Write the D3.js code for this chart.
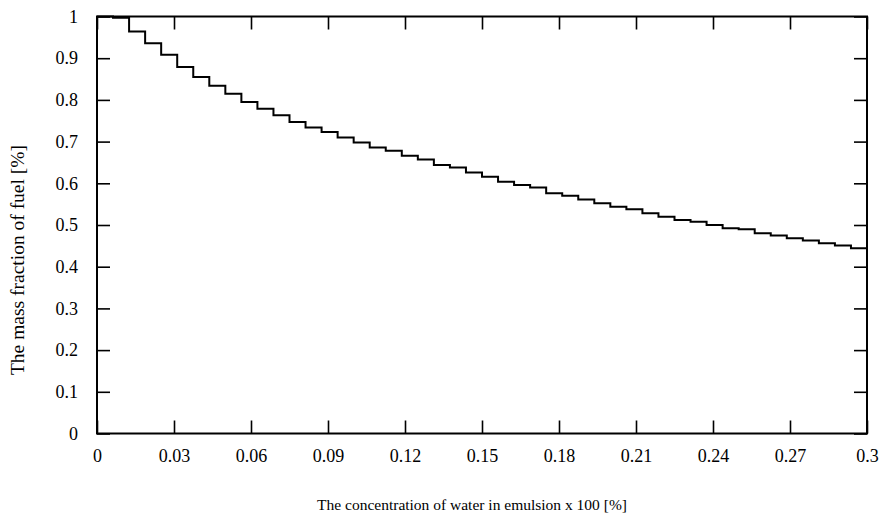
<!DOCTYPE html>
<html lang="en">
<head>
    <meta charset="UTF-8">
    <title>Mass fraction of fuel</title>
    <style>
        html, body { margin: 0; padding: 0; background: #fff; overflow: hidden; }
        svg { display: block; overflow: visible; }
        .tick line { stroke: #000; stroke-width: 1.6; }
        .domain { display: none; }
    </style>
</head>
<body>

    <svg width="884" height="519"></svg>

    <script src="https://cdn.jsdelivr.net/npm/d3@7"></script>

    <script>

        // Step start positions (water concentration) and mass fraction per step
        const stepX = [
            0, 0.00625, 0.0125, 0.01875, 0.025, 0.03125, 0.0375, 0.04375,
            0.05, 0.05625, 0.0625, 0.06875, 0.075, 0.08125, 0.0875, 0.09375,
            0.1, 0.10625, 0.1125, 0.11875, 0.125, 0.13125, 0.1375, 0.14375,
            0.15, 0.15625, 0.1625, 0.16875, 0.175, 0.18125, 0.1875, 0.19375,
            0.2, 0.20625, 0.2125, 0.21875, 0.225, 0.23125, 0.2375, 0.24375,
            0.25, 0.25625, 0.2625, 0.26875, 0.275, 0.28125, 0.2875, 0.29375,
            0.3
        ];

        const fuelFraction = [
            1.0, 0.997, 0.964, 0.936, 0.908, 0.879, 0.855, 0.834,
            0.815, 0.795, 0.779, 0.763, 0.747, 0.734, 0.723, 0.710,
            0.698, 0.686, 0.678, 0.666, 0.657, 0.644, 0.638, 0.626,
            0.616, 0.604, 0.596, 0.590, 0.576, 0.570, 0.561, 0.552,
            0.544, 0.538, 0.528, 0.520, 0.512, 0.508, 0.500, 0.492,
            0.490, 0.480, 0.475, 0.468, 0.463, 0.456, 0.451, 0.444,
            0.444
        ];

        const xTickValues = [0, 0.03, 0.06, 0.09, 0.12, 0.15, 0.18, 0.21, 0.24, 0.27, 0.3];
        const xTickLabels = ['0', '0.03', '0.06', '0.09', '0.12', '0.15', '0.18', '0.21', '0.24', '0.27', '0.3'];
        const yTickValues = [0, 0.1, 0.2, 0.3, 0.4, 0.5, 0.6, 0.7, 0.8, 0.9, 1];
        const yTickLabels = ['0', '0.1', '0.2', '0.3', '0.4', '0.5', '0.6', '0.7', '0.8', '0.9', '1'];

        const xLabel = 'The concentration of water in emulsion x 100 [%]';
        const yLabel = 'The mass fraction of fuel [%]';

        const serif = '"Liberation Serif", "DejaVu Serif", serif';

        const margin = { left: 97, right: 17, top: 16.5, bottom: 85.5 };

        const svg = d3.select('svg');
        const width = +svg.attr('width');
        const height = +svg.attr('height');
        const innerWidth = width - margin.left - margin.right;
        const innerHeight = height - margin.top - margin.bottom;

        const xScale = d3.scaleLinear().domain([0, 0.3]).range([0, innerWidth]);
        const yScale = d3.scaleLinear().domain([0, 1]).range([innerHeight, 0]);

        const group = svg.append('g')
            .attr('transform', 'translate(' + margin.left + ' ' + margin.top + ')');

        const tickLen = 13;

        const styleTicks = function (g) {
            g.attr('font-family', serif).attr('font-size', 18);
            g.selectAll('.tick text').attr('fill', '#000');
        };

        // bottom axis with labels, inward ticks
        group.append('g')
            .attr('transform', 'translate(0 ' + innerHeight + ')')
            .call(d3.axisBottom(xScale)
                .tickValues(xTickValues)
                .tickFormat(function (d, i) { return xTickLabels[i]; })
                .tickSizeInner(-tickLen)
                .tickSizeOuter(0)
                .tickPadding(tickLen + 2))
            .call(styleTicks)
            .call(function (g) { g.selectAll('.tick text').attr('dy', '0.75em'); });

        // top axis, ticks only
        group.append('g')
            .call(d3.axisTop(xScale)
                .tickValues(xTickValues)
                .tickFormat('')
                .tickSizeInner(-tickLen)
                .tickSizeOuter(0));

        // left axis with labels
        group.append('g')
            .call(d3.axisLeft(yScale)
                .tickValues(yTickValues)
                .tickFormat(function (d, i) { return yTickLabels[i]; })
                .tickSizeInner(-tickLen)
                .tickSizeOuter(0)
                .tickPadding(tickLen + 6))
            .call(styleTicks);

        // right axis, ticks only
        group.append('g')
            .attr('transform', 'translate(' + innerWidth + ' 0)')
            .call(d3.axisRight(yScale)
                .tickValues(yTickValues)
                .tickFormat('')
                .tickSizeInner(-tickLen)
                .tickSizeOuter(0));

        // frame
        group.append('rect')
            .attr('x', 0)
            .attr('y', 0)
            .attr('width', innerWidth)
            .attr('height', innerHeight)
            .attr('fill', 'none')
            .attr('stroke', '#000')
            .attr('stroke-width', 2);

        const points = stepX.map(function (x, i) { return [x, fuelFraction[i]]; });

        const line = d3.line()
            .x(function (d) { return xScale(d[0]); })
            .y(function (d) { return yScale(d[1]); })
            .curve(d3.curveStepAfter);

        group.append('path')
            .attr('fill', 'none')
            .attr('stroke', '#000')
            .attr('stroke-width', 2)
            .attr('d', line(points));

        // axis labels
        svg.append('text')
            .attr('font-family', serif)
            .attr('font-size', 15.5)
            .attr('x', margin.left + innerWidth / 2 - 10)
            .attr('y', 510)
            .style('text-anchor', 'middle')
            .text(xLabel);

        svg.append('text')
            .attr('font-family', serif)
            .attr('font-size', 19.5)
            .attr('transform', 'translate(24 ' + (margin.top + innerHeight / 2 + 35) + ') rotate(-90)')
            .style('text-anchor', 'middle')
            .text(yLabel);

    </script>

</body>
</html>
